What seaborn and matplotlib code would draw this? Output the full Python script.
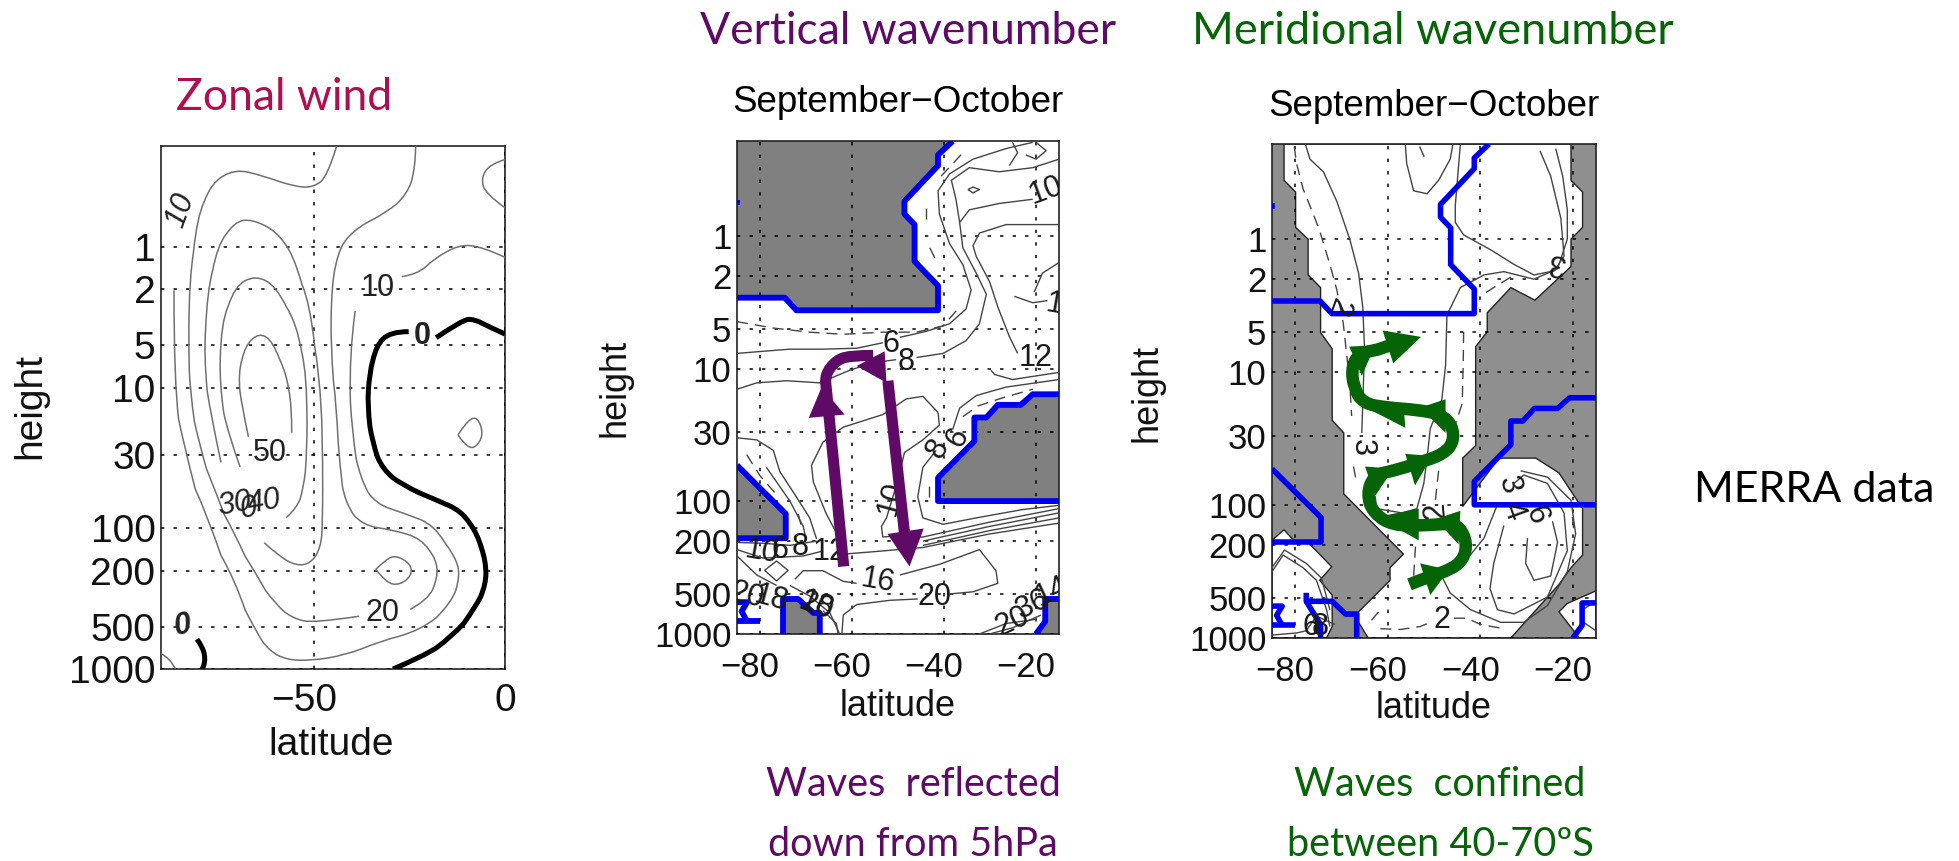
import numpy as np
import matplotlib
matplotlib.use('Agg')
import matplotlib.pyplot as plt
import seaborn as sns
from matplotlib.patches import PathPatch
from matplotlib.path import Path
from matplotlib.transforms import ScaledTranslation

# every curve is a list of (latitude, log10 of pressure level)
height_ticks = [1, 2, 5, 10, 30, 100, 200, 500, 1000]
top_z = -0.716

# Zonal wind contours
u10_a = [(0,.075),(-5.9,0),(-12.1,-.016),(-18.5,.082),(-23,.196),(-27,.212)]
u10_b = [(-39.2,.456),(-40.8,.766),(-40.1,1.288),(-37.8,1.647),(-33.8,1.826),(-26.6,1.891),(-18.5,1.973),(-13,2.201),
         (-11.7,2.331),(-14,2.527),(-22,2.723),(-32.9,2.804),(-41.9,2.902),(-50.9,2.941),(-57.2,2.934),(-61.7,2.869),
         (-65.3,2.723),(-70.7,2.364),(-77.9,1.907),(-84.2,1.386),(-86.6,.962),(-86.6,.31)]
u20_a = [(-44.1,-.711),(-46.4,-.505),(-50,-.424),(-54.5,-.424),(-63.4,-.505),(-70.6,-.554),(-76.9,-.456),(-80.6,-.212),
         (-82.5,.212),(-82.8,.636),(-82.4,1.027),(-80.1,1.386),(-76.1,1.712),(-70.7,2.038),(-65.3,2.315),(-59.9,2.543),
         (-55.4,2.641),(-50,2.674),(-38.2,2.625)]
u20_b = [(-24.8,2.576),(-20.3,2.511),(-17.6,2.348),(-18,2.217),(-22,2.07),(-29.3,2.012),(-37.4,1.979),(-41.9,1.81),
         (-43.2,1.549),(-44.1,1.125),(-45.6,.701),(-45.4,.245),(-43.2,-.016),(-38.2,-.147),(-31,-.245),(-25.6,-.375),
         (-23.4,-.571),(-23.4,-.711)]
u30 = [(-74.3,1.532),(-77,1.19),(-78.8,.766),(-77.9,.31),(-75.2,-.016),(-70.7,-.179),(-66.2,-.196),(-59.9,-.114),
       (-55.4,.049),(-50.9,.408),(-48.6,.897),(-47.7,1.288),(-47.7,1.94),(-48.2,2.136),(-50.9,2.25),(-54.5,2.266),
       (-59,2.201),(-63,2.103)]
u40 = [(-69.3,1.565),(-72.5,1.321),(-74.7,.962),(-74.3,.538),(-70.7,.277),(-65.3,.202),(-59.9,.277),(-54.5,.538),
       (-51.8,.897),(-51.8,1.451),(-52.7,1.712),(-54.5,1.858),(-57.2,1.924)]
u50 = [(-67.1,1.353),(-68.9,1.125),(-69.8,.897),(-68,.701),(-64.4,.61),(-60.8,.668),(-57.2,.897),(-55.8,1.125),(-55.8,1.321)]
u_jet = [(-33.8,2.292),(-31,2.217),(-28.4,2.194),(-24.8,2.25),(-24.3,2.331),(-27.5,2.403),(-31,2.39),(-33.8,2.292)]
u_small = [(-12.3,1.337),(-10.4,1.255),(-7.7,1.2),(-5.9,1.288),(-6.3,1.386),(-9.5,1.451),(-12.3,1.337)]
u_top = [(0,-.62),(-4,-.587),(-6.3,-.489),(-5,-.375),(0,-.277)]
u_corner = [(-90,2.892),(-87.8,2.918),(-86.2,3)]
u0_a = [(0,.62),(-4,.571),(-8.1,.512),(-11.3,.522),(-18,.646)]
u0_b = [(-25.2,.603),(-30.1,.603),(-33.7,.701),(-35.5,.897),(-36,1.125),(-34.7,1.386),(-32,1.581),(-26.6,1.695),
        (-18.5,1.793),(-11.3,1.875),(-7.2,2.038),(-5,2.233),(-5,2.396),(-7.7,2.559),(-14,2.771),(-22,2.918),(-29.3,3)]
u0_c = [(-90,2.527),(-87.1,2.586)]
u0_d = [(-80.6,2.788),(-77.4,2.902),(-79.2,3)]
u_labels = [('10',-84.9,-.26,70,'italic','normal'),('10',-33.3,.293,0,'normal','normal'),('0',-21.6,.636,0,'normal','bold'),
            ('50',-61.4,1.467,0,'normal','normal'),('30',-70.7,1.826,10,'italic','normal'),('40',-63,1.816,10,'italic','normal'),
            ('0',-67,1.86,10,'italic','normal'),('20',-32,2.6,0,'normal','normal'),('0',-84.2,2.69,10,'italic','bold')]

# blue outline shared by the two wavenumber panels
blue_top = [(-85,.465),(-74.6,.465),(-72.1,.56),(-41.3,.56),(-41.3,.375),(-46.4,.191),(-46.4,-.086),(-48.6,-.165),
            (-48.6,-.261),(-41.3,-.531),(-41.3,-.611),(-38.1,-.716)]
blue_right = [(-15,1.193),(-20.7,1.193),(-23.3,1.273),(-28.3,1.273),(-30.8,1.368),(-33.4,1.368),(-33.4,1.546),
              (-41.3,1.823),(-41.3,1.998),(-15,1.998)]
blue_left = [(-85,1.728),(-74.4,2.094),(-74.4,2.278),(-85,2.278)]
blue_bot = [(-75,3),(-75,2.736),(-71.7,2.736),(-68.4,2.841),(-67,2.841),(-67,3)]
blue_corner = [(-15,2.736),(-18,2.736),(-18,2.905),(-20,3),(-15,3)]
blue_bits = [[(-85,2.905),(-80,2.905)],[(-85,2.76),(-82.8,2.76),(-84,2.83),(-82.8,2.905)],[(-85,-.27),(-85,-.23)]]

# Vertical wavenumber contours
v_a1 = [(-85,.885),(-79.3,.869),(-73.5,.853),(-66.3,.853),(-59,.846),(-53.3,.805)]
v_a2 = [(-49.6,.764),(-43.9,.719),(-38.8,.662),(-35.2,.55),(-34.1,.407),(-35.9,.216),(-38.8,.057),(-41,-.165),(-41.3,-.34),
        (-38.8,-.468),(-33.7,-.579),(-26.5,-.659),(-20.7,-.706)]
v_b1 = [(-85,1.155),(-80.7,1.107),(-74.2,1.091),(-67,1.107),(-60.5,1.012),(-55.4,.955),(-50.4,.932)]
v_b2 = [(-46,.916),(-40.2,.885),(-35.2,.789),(-32.3,.662),(-30.8,.439),(-33,.28),(-35.9,.089),(-36.6,-.102),(-34.5,-.197),
        (-28,-.245),(-20.7,-.277)]
v_c = [(-36.6,-.102),(-37.4,-.277),(-38.4,-.42),(-34.5,-.515),(-28,-.484),(-20.7,-.515),(-15,-.579)]
v_diamond = [(-34.8,-.35),(-33.7,-.369),(-32.3,-.35),(-33.7,-.325),(-34.8,-.35)]
v_d1 = [(-29.8,1.012),(-29,1.044),(-25.1,1.082),(-15,1.028)]
v_d2 = [(-24,.885),(-25.8,.757),(-28.3,.535),(-30.1,.344),(-33,.153),(-33.7,.073),(-32.3,-.022),(-26.5,-.086),(-15,-.086)]
v_e1 = [(-24.7,.455),(-20.7,.503),(-17.5,.487)]
v_e2 = [(-15,.2),(-18.6,.28),(-20.4,.423)]
v_f1 = [(-25.8,-.531),(-24,-.627),(-25.1,-.706)]
v_f2 = [(-22.2,-.611),(-20,-.579),(-17.8,-.643),(-20,-.706)]
v_g1 = [(-41.3,1.33),(-44.6,1.209),(-48.2,1.228),(-53.3,1.346),(-61.9,1.441),(-66.3,1.553),(-68.8,1.728),(-68.4,1.855),
        (-65.6,2.094),(-63.4,2.237)]
v_g2 = [(-41.3,1.33),(-41,1.425),(-44.6,1.537),(-48.6,1.632),(-50,1.839),(-52.5,2.125),(-53.6,2.189),(-53.3,2.269),(-47.5,2.253)]
v_h = [(-38.1,1.457),(-36.6,1.298),(-33,1.203),(-26.5,1.139),(-15,1.082)]
v_i = [(-41.7,1.616),(-44.6,1.744),(-45.7,1.966),(-44.6,2.125),(-40.2,2.173),(-33,2.125),(-22.9,2.062),(-15,2.03)]
v_j1 = [(-15,2.055),(-30.1,2.157),(-44.6,2.269),(-46.8,2.269)]
v_j2 = [(-15,2.087),(-30.1,2.189),(-44.6,2.3)]
v_j3 = [(-15,2.125),(-30.1,2.221),(-44.6,2.332)]
v_j4 = [(-15,2.164),(-30.1,2.246),(-44.6,2.348),(-55.4,2.38),(-61.2,2.396)]
v_k1 = [(-85,2.31),(-79.3,2.316),(-73.5,2.332),(-67.7,2.3)]
v_k2 = [(-85,2.364),(-79.3,2.428),(-70.6,2.412),(-66.3,2.374)]
v_k3 = [(-85,2.412),(-80.7,2.555),(-76.4,2.634)]
v_l1 = [(-85,1.521),(-80.7,1.537),(-77.1,1.616),(-75.7,1.775),(-72.1,1.966),(-69.2,2.125),(-67.7,2.284)]
v_l2 = [(-78.6,1.744),(-73.5,1.998),(-70.6,2.189),(-69.9,2.3)]
v_m1 = [(-72.4,2.587),(-70.6,2.523),(-66.3,2.523),(-61.9,2.603),(-59,2.618)]
v_m2 = [(-49.6,2.555),(-41,2.475),(-32.3,2.364),(-28.7,2.523),(-28.3,2.618),(-33.7,2.682),(-38.8,2.698)]
v_m3 = [(-45.7,2.736),(-51.8,2.746),(-59,2.778),(-61.9,2.857),(-62.2,3)]
v_n1 = [(-73.5,2.634),(-69.2,2.714),(-64.8,2.841),(-62.7,3)]
v_n2 = [(-66.3,2.825),(-63.4,2.92),(-63,3)]
v_o1 = [(-32.3,3),(-26.5,2.921),(-20,2.889)]
v_o2 = [(-30.1,3),(-25.1,2.953),(-18.9,2.857)]
v_box = [(-79,2.52),(-76.4,2.45),(-73.9,2.52),(-76.4,2.6),(-79,2.52)]
v_dash = [[(-85,.646),(-77.1,.694),(-69.2,.725),(-61.9,.741),(-53.3,.725),(-46,.725),(-40.2,.678),(-36.6,.535)],
          [(-43.9,-.213),(-43.9,-.102)],[(-43.1,.089),(-41.7,.185)],[(-40.6,-.452),(-35.9,-.627)],
          [(-35.9,1.362),(-32.7,1.282),(-27.2,1.219),(-20.7,1.155)],[(-43.3,1.887),(-43.3,1.998)],
          [(-82.9,1.648),(-80,1.807),(-76.4,1.95)],[(-71.7,2.094),(-71,2.189)]]
v_labels = [('6',-51.5,.815,0),('8',-48.2,.948,0),('10',-17.8,-.34,20),('1',-16,.519,-10),('12',-20,.916,0),('8',-41.3,1.6,60),
            ('6',-37,1.521,60),('10',-51.5,1.982,75),('10',-79.6,2.38,-10),('6',-75.7,2.364,0),('8',-71.3,2.348,0),('12',-64.8,2.38,0),
            ('16',-54.3,2.603,-10),('20',-42,2.724,0),('20',-82.9,2.714,-15),('18',-77.5,2.736,-15),('18',-67.7,2.787,-20),('20',-67.7,2.79,-20),
            ('20',-25,2.905,25),('36',-20.7,2.776,25),('14',-16.6,2.68,25)]

# purple arrows
v_up = [(-61.8,2.491),(-65.5,1.171),(-65.9,1.044),(-63.4,.932),(-59.8,.9),(-55.4,.9)]
v_up_head = [(-66.6,1.139),(-69.4,1.371),(-61.6,1.346)]
v_turn_head = [(-52.9,.869),(-59,.98),(-52.5,1.107)]
v_down = [(-52.2,1.091),(-48.6,2.237)]
v_down_head = [(-52.3,2.246),(-44.4,2.205),(-47.5,2.491)]

# Meridional wavenumber: white (propagating) regions
m_white = [(-82.4,-.716),(-82.4,-.443),(-79.9,-.355),(-79.9,-.089),(-77.2,0),(-77.2,.269),(-74.5,.364),(-74.5,.703),(-72,.824),
           (-72,1.362),(-69.5,1.457),(-69.5,1.916),(-56.6,2.369),(-59.5,2.471),(-59.5,2.566),(-66.3,2.803),(-66.3,2.883),(-64.2,3),
           (-33.4,3),(-23,2.597),(-20.4,2.471),(-17.9,2.376),(-17.9,2.027),(-23,1.758),(-28,1.647),(-36,1.647),(-43.8,2.011),
           (-43.8,1.647),(-41,1.552),(-41,.808),(-38.5,.697),(-38.5,.554),(-33.4,.364),(-28.2,.459),(-20.4,.206),(-20.4,0),
           (-17.9,-.089),(-17.9,-.355),(-20.4,-.443),(-20.4,-.716)]
m_white_bl = [(-85,2.265),(-82.4,2.186),(-79.9,2.281),(-77.2,2.281),(-72.1,2.464),(-74.7,2.566),(-72,2.677),(-72,2.914),(-73.2,3),(-85,3)]
m_white_br = [(-23,2.803),(-21.2,2.74),(-15,2.645),(-15,3),(-18.6,3)]
m_blue_bot = [(-77.6,2.66),(-77.6,2.724),(-74.5,2.724),(-72,2.724),(-69.1,2.82),(-66.7,2.82),(-66.7,3)]
m_blue_bot2 = [(-77.6,2.724),(-74.5,2.9),(-74.5,3)]

m_a = [(-77.8,-.716),(-76.8,-.602),(-73.9,-.507),(-71,-.285),(-68.2,0),(-66.3,.253),(-65.4,.507),(-65,.824),(-65.3,1.14),(-65.6,1.457)]
m_c = [(-56.2,-.716),(-55.9,-.57),(-54.4,-.364),(-51.5,-.342),(-49,-.443),(-46.5,-.602),(-45.9,-.716)]
m_d = [(-44.3,-.716),(-45.4,-.253),(-45.4,-.127),(-43.6,-.032),(-37.8,.079),(-32.7,.19),(-28.4,.269),(-24,.238),(-21.9,.127),
       (-22.6,-.158),(-24.8,-.475),(-27.1,-.665)]
m_e = [(-23.7,-.681),(-22.2,-.475),(-21.2,-.222),(-21.2,0),(-23.3,.222),(-28.4,.301),(-34.9,.244),(-39.2,.269),(-44.3,.364),
       (-47.2,.57),(-47.5,.95),(-48.3,1.204),(-50.8,1.425),(-51.5,1.647),(-52.2,1.837),(-53.7,2.027),(-56.9,2.059),(-62.4,2.027),(-62.7,1.932)]
m_f = [(-48.6,2.518),(-46.5,2.661),(-42.1,2.787),(-35.6,2.882),(-30.6,2.882),(-25.5,2.756),(-21.2,2.502),(-19.4,2.217),(-20.4,1.964),
       (-25.5,1.79),(-31.3,1.742)]
m_f2 = [(-42.9,2.407),(-39.2,2.249),(-36.3,1.996)]
m_g = [(-34.9,2.154),(-37.1,2.439),(-37.9,2.629),(-36.3,2.787),(-32.7,2.819),(-25.5,2.692),(-21.2,2.344),(-21.9,2.059),(-25.5,1.837),
       (-30.6,1.774),(-32.7,1.837)]
m_h = [(-29.8,2.249),(-30.2,2.439),(-28.4,2.566),(-24.8,2.534),(-23.3,2.281),(-24.4,2.122)]
m_i1 = [(-85,2.502),(-82.6,2.376),(-78.3,2.471),(-75.4,2.566),(-73.2,2.787),(-72.5,2.914)]
m_i2 = [(-85,2.471),(-82.3,2.338),(-77.6,2.439),(-74.3,2.55),(-72.5,2.787)]
m_i3 = [(-85,2.978),(-79.7,2.962),(-77.6,2.946),(-75.4,2.835),(-72.5,2.882),(-71.4,2.898)]
m_j = [(-15,2.724),(-17.9,2.787),(-18.3,2.867),(-15,2.946)]
m_dash = [[(-80.2,-.697),(-79.7,-.57),(-78.3,-.38),(-76.1,-.19),(-74.7,-.063),(-72.5,.19),(-71,.38),(-69.6,.634),(-68.9,.855),(-68.2,1.077),(-67.8,1.33)],
          [(-67.4,1.71),(-66.7,1.837)],[(-53.1,-.697),(-51.9,-.602)],[(-43.6,.697),(-43.7,.95),(-43.9,1.235),(-45.4,1.394)],
          [(-49,1.742),(-49.7,1.964)],[(-33.4,.285),(-37.1,.364),(-40,.428)],[(-54,2.312),(-54.4,2.534)],[(-63.5,2.867),(-62,2.803)],
          [(-61.6,2.93),(-57.3,2.936),(-53,2.914),(-50.8,2.882)],[(-45.7,2.851),(-42.9,2.851),(-40,2.898),(-34.9,2.93)],
          [(-20.1,2.091),(-19.7,2.217)]]
m_labels = [('2',-70.7,.507,-110),('3',-65.5,1.568,-90),('3',-23.7,.174,170),('2',-49.7,2.043,95),('3',-33.8,1.853,-75),('4',-33.1,2.043,-70),
            ('6',-28,2.075,-70),('2',-48.3,2.867,0),('6',-76.5,2.914,0),('8',-74.7,2.914,0)]

# green zig-zag arrow and its heads
m_path = [(-55.3,2.597),(-50.8,2.534),(-46.5,2.487),(-43.6,2.407),(-42.9,2.281),(-44.3,2.17),(-46.5,2.138),(-52.2,2.154),(-58.8,2.154),
          (-63.1,2.059),(-64.5,1.916),(-63.1,1.774),(-58.8,1.742),(-53,1.679),(-47.9,1.615),(-45.7,1.52),(-46.1,1.394),(-48.6,1.315),
          (-53.7,1.283),(-60.2,1.267),(-65.3,1.235),(-67.4,1.109),(-67.8,.95),(-66,.855),(-60.9,.824),(-58,.776)]
m_heads = [[(-53,2.439),(-46.8,2.487),(-50.8,2.677)],[(-49.7,2.106),(-44.3,2.043),(-44.7,2.296)],[(-53.3,2.027),(-53.3,2.265),(-62.4,2.091)],
           [(-64.9,1.71),(-58.8,1.726),(-62.7,1.932)],[(-56.2,1.615),(-50.4,1.631),(-54.1,1.853)],[(-53,1.267),(-47.5,1.204),(-47.5,1.457)],
           [(-56.6,1.235),(-56.2,1.419),(-63.8,1.283)],[(-68.3,.808),(-62.7,.798),(-65.6,1.029)],[(-61.1,.687),(-52.8,.735),(-58.8,.934)]]

CW, CH = 1959, 861
LINE = '#555555'
BLUE = '#0000f0'
PURPLE = '#5f0a66'
GREEN = '#056405'
TICK = '#111111'

sns.set_theme(style='white')
plt.rcParams['font.family'] = ['Liberation Sans', 'DejaVu Sans']
plt.rcParams['axes.unicode_minus'] = True


def curve(ax, pts, color=LINE, lw=1.0, ls='-', z=3):
    lat = [p[0] for p in pts]
    lev = 10 ** np.array([p[1] for p in pts])
    sns.lineplot(x=lat, y=lev, sort=False, estimator=None, color=color, linewidth=lw,
                 linestyle=ls, zorder=z, ax=ax, legend=False, solid_capstyle='butt')


def smooth(ax, pts, color, lw, z=3):
    # rounded drawing of the read points: the points act as bezier control points
    xy = [(p[0], 10 ** p[1]) for p in pts]
    verts = [xy[0]]
    codes = [Path.MOVETO]
    for i in range(1, len(xy) - 1):
        mid = ((xy[i][0] + xy[i + 1][0]) / 2, (xy[i][1] + xy[i + 1][1]) / 2)
        if i == len(xy) - 2:
            mid = xy[-1]
        verts += [xy[i], mid]
        codes += [Path.CURVE3, Path.CURVE3]
    ax.add_patch(PathPatch(Path(verts, codes), fill=False, edgecolor=color, linewidth=lw,
                           capstyle='butt', joinstyle='round', zorder=z))


def patch(ax, pts, color, z=1.5, edge='none', lw=0):
    lat = [p[0] for p in pts]
    lev = 10 ** np.array([p[1] for p in pts])
    ax.fill(lat, lev, facecolor=color, edgecolor=edge, linewidth=lw, zorder=z)


def make_axes(box, xlim, xticks, xlabels, tsize, xpad, lat_pos, height_pos, lab_size):
    # box is left, right, top, bottom in pixels
    l, r, t, b = box
    ax = fig.add_axes([l / CW, 1 - b / CH, (r - l) / CW, (b - t) / CH])
    ax.set_yscale('log')
    ax.set_xlim(*xlim)
    ax.set_ylim(1000, 10 ** top_z)
    ax.set_yticks(height_ticks)
    ax.set_yticklabels([str(h) for h in height_ticks], fontsize=tsize, color=TICK)
    ax.minorticks_off()
    ax.set_xticks(xticks)
    ax.set_xticklabels(xlabels, fontsize=tsize, color=TICK)
    ax.tick_params(length=0, pad=4)
    ax.tick_params(axis='x', pad=xpad)
    # the negative labels sit a little left of their grid lines in the source
    shift = ScaledTranslation(-10 / 100, 0, fig.dpi_scale_trans)
    for lab in ax.get_xticklabels():
        if lab.get_text().startswith('\u2212'):
            lab.set_transform(lab.get_transform() + shift)
    ax.grid(True, color='black', linestyle=(0, (2.2, 6)), linewidth=1.1)
    ax.set_axisbelow(False)
    for s in ax.spines.values():
        s.set_visible(True)
        s.set_color('#222222')
        s.set_linewidth(1.2)
    fig.text(lat_pos[0] / CW, 1 - lat_pos[1] / CH, 'latitude', ha='center', va='center', fontsize=lab_size, color=TICK)
    fig.text(height_pos[0] / CW, 1 - height_pos[1] / CH, 'height', ha='center', va='center', rotation=90, fontsize=lab_size, color=TICK)
    return ax


def head_text(x, y, s, color, size=32, family=('Lato', 'DejaVu Sans')):
    fig.text(x / CW, 1 - y / CH, s, ha='center', va='center', fontsize=size, color=color, family=list(family))


def map_labels(ax, labels, size):
    for s, lat, z, rot in labels:
        ax.text(lat, 10 ** z, s, fontsize=size, rotation=rot, ha='center', va='center', color='#1a1a1a', zorder=4, clip_on=True)


fig = plt.figure(figsize=(CW / 100, CH / 100), dpi=100)

# left panel, zonal wind
ax1 = make_axes((161, 505, 146, 669), (-90, 0), [-50, 0], ['\u221250', '0'], 28, 10, (331, 745), (30, 406), 28)
for seg in [u10_a, u10_b, u20_a, u20_b, u30, u40, u50, u_jet, u_small, u_top, u_corner]:
    smooth(ax1, seg, '#707070', 1.1)
for seg in [u0_a, u0_b, u0_c, u0_d]:
    smooth(ax1, seg, 'black', 3.6)
for s, lat, z, rot, style, weight in u_labels:
    ax1.text(lat, 10 ** z, s, fontsize=22, rotation=rot, style=style, weight=weight, ha='center', va='center', color='#222222', zorder=4)

# middle panel, vertical wavenumber
ax2 = make_axes((737, 1059, 141, 634), (-85, -15), [-80, -60, -40, -20], ['\u221280', '\u221260', '\u221240', '\u221220'], 25, 12, (898, 706), (615, 388), 26)
top_area = blue_top + [(-85, top_z)]
for area in [top_area, blue_right, blue_left, blue_bot, blue_corner]:
    patch(ax2, area, '#808080')
for seg in [v_a1, v_a2, v_b1, v_b2, v_c, v_diamond, v_d1, v_d2, v_e1, v_e2, v_f1, v_f2, v_g1, v_g2, v_h, v_i, v_j1, v_j2, v_j3, v_j4,
            v_k1, v_k2, v_k3, v_l1, v_l2, v_m1, v_m2, v_m3, v_n1, v_n2, v_o1, v_o2, v_box]:
    curve(ax2, seg, color='#444444', lw=1.0)
for seg in v_dash:
    curve(ax2, seg, color='#444444', lw=1.0, ls=(0, (8, 5)))
for seg in [blue_top, blue_right, blue_left, blue_bot, blue_corner[:4]] + blue_bits:
    curve(ax2, seg, color=BLUE, lw=4.2, z=3.5)
map_labels(ax2, v_labels, 22)
smooth(ax2, v_up, PURPLE, 8, z=6)
curve(ax2, v_down, color=PURPLE, lw=8, z=6)
for head in [v_up_head, v_turn_head, v_down_head]:
    patch(ax2, head, PURPLE, z=6)

# right panel, meridional wavenumber
ax3 = make_axes((1272, 1596, 144, 638), (-85, -15), [-80, -60, -40, -20], ['\u221280', '\u221260', '\u221240', '\u221220'], 25, 12, (1434, 709), (1147, 393), 26)
ax3.set_facecolor('#8f8f8f')
for area in [m_white, m_white_bl, m_white_br]:
    patch(ax3, area, 'white', edge='#222222', lw=1.0)
for seg in [m_a, m_c, m_d, m_e, m_f, m_f2, m_g, m_h, m_i1, m_i2, m_i3, m_j]:
    curve(ax3, seg, color='#444444', lw=1.0)
for seg in m_dash:
    curve(ax3, seg, color='#444444', lw=1.0, ls=(0, (8, 5)))
for seg in [blue_top, blue_right, blue_left, m_blue_bot, m_blue_bot2, blue_corner[:4]] + blue_bits:
    curve(ax3, seg, color=BLUE, lw=4.0, z=3.5)
map_labels(ax3, m_labels, 22)
smooth(ax3, m_path, GREEN, 9, z=6)
for head in m_heads:
    patch(ax3, head, GREEN, z=6)

# panel headings and side notes
head_text(284, 97, 'Zonal wind', '#ae0f50')
head_text(908, 32, 'Vertical wavenumber', PURPLE)
head_text(1433, 31, 'Meridional wavenumber', GREEN, size=32.5)
for x, y in [(898, 102), (1434, 107)]:
    head_text(x, y, 'September\u2212October', 'black', size=26.5, family=('Liberation Sans', 'DejaVu Sans'))
head_text(913, 785, 'Waves  reflected', PURPLE, size=28.5)
head_text(913, 845, 'down from 5hPa', PURPLE, size=28.5)
head_text(1440, 785, 'Waves  confined', GREEN, size=28.5)
head_text(1440, 845, 'between 40-70\u00baS', GREEN, size=28.5)
head_text(1814, 490, 'MERRA data', 'black', size=31)

fig.savefig('out.png', dpi=100)
